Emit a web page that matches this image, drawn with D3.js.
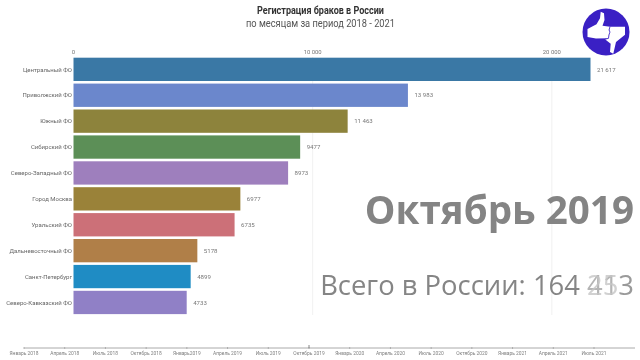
<!DOCTYPE html>
<html><head><meta charset="utf-8">
<script src="https://cdn.jsdelivr.net/npm/d3@7"></script>
<style>
html,body{margin:0;padding:0;background:#fff}
svg{display:block;filter:blur(0.35px)}
text{font-family:Roboto,sans-serif}
</style></head><body>
<svg id="c" width="640" height="360"></svg>
<script>
const categories=["Центральный ФО","Приволжский ФО","Южный ФО","Сибирский ФО","Северо-Западный ФО","Город Москва","Уральский ФО","Дальневосточный ФО","Санкт-Петербург","Северо-Кавказский ФО"];
const values=[21617,13983,11463,9477,8973,6977,6735,5178,4899,4733];
const barColors=["#3a78a5","#6b87cc","#8d833c","#5c8f57","#9e7fbd","#9a8239","#cc7078","#b07f48","#1f8cc4","#9080c6"];
const xTicks=[0,10000,20000];
const timeLabels=["Январь 2018","Апрель 2018","Июль 2018","Октябрь 2018","Январь2019","Апрель 2019","Июль 2019","Октябрь 2019","Январь 2020","Апрель 2020","Июль 2020","Октябрь 2020","Январь 2021","Апрель 2021","Июль 2021"];
const periodLabel="Октябрь 2019";
const currentIndex=7;
const totalPrefix="Всего в России: 164 ";
const fadingDigits=["41","25"];
const lastDigit="3";

const fmt=v=>v>=10000?d3.format(",")(v).replace(",", " "):String(v);
const svg=d3.select("#c");
const x=d3.scaleLinear().domain([0,21617]).range([73.5,590.5]);
const y=d3.scaleBand().domain(categories).range([55.1,316.7]).paddingInner(.1).paddingOuter(.1);
// gridlines
svg.append("g").selectAll("line").data(xTicks.slice(1)).join("line")
 .attr("x1",d=>x(d)).attr("x2",d=>x(d)).attr("y1",57).attr("y2",315)
 .attr("stroke","#eeeeee").attr("stroke-width",.8);
// top axis labels
svg.append("g").selectAll("text").data(xTicks).join("text")
 .attr("x",d=>x(d)).attr("y",53.5).attr("text-anchor","middle")
 .attr("font-size",5.9).attr("fill","#777").text(d=>d?d3.format(",")(d).replace(","," "):"0");
// bars
svg.append("g").selectAll("rect").data(values).join("rect")
 .attr("x",x(0)).attr("y",(d,i)=>y(categories[i])).attr("width",d=>x(d)-x(0))
 .attr("height",y.bandwidth()).attr("fill",(d,i)=>barColors[i]);
// category labels
svg.append("g").selectAll("text").data(categories).join("text")
 .attr("x",72).attr("y",d=>y(d)+y.bandwidth()/2+2.2).attr("text-anchor","end")
 .attr("font-size",6).attr("fill","#666").text(d=>d);
// value labels
svg.append("g").selectAll("text").data(values).join("text")
 .attr("x",d=>x(d)+6.5).attr("y",(d,i)=>y(categories[i])+y.bandwidth()/2+2.2)
 .attr("font-size",6.1).attr("fill","#777").text(fmt);
// title
svg.append("text").attr("x",320.5).attr("y",13.5).attr("text-anchor","middle")
 .attr("font-size",10.5).attr("font-weight",700).attr("fill","#333")
 .attr("textLength",127).attr("lengthAdjust","spacingAndGlyphs").text("Регистрация браков в России");
svg.append("text").attr("x",320.5).attr("y",26.5).attr("text-anchor","middle")
 .attr("font-size",10).attr("fill","#555")
 .attr("textLength",149).attr("lengthAdjust","spacingAndGlyphs").text("по месяцам за период 2018 - 2021");
// big period text
svg.append("text").attr("x",634).attr("y",224).attr("text-anchor","end")
 .style("font-family","'Open Sans'").attr("font-size",38.6).attr("font-weight",700)
 .attr("fill","#848484").text(periodLabel);
// total, with the digits caught mid-change
const total=svg.append("text").attr("y",295).attr("x",634).attr("text-anchor","end")
 .style("font-family","'Open Sans'").attr("font-size",27.4).attr("fill","#858585");
total.append("tspan").text(totalPrefix);
total.append("tspan").attr("fill","#b4b4b4").text(fadingDigits[0]);
total.append("tspan").attr("fill","#9a9a9a").text(lastDigit);
const lastW=15.68;
svg.append("text").attr("y",295).attr("x",634-lastW).attr("text-anchor","end")
 .style("font-family","'Open Sans'").attr("font-size",27.4).attr("fill","#c6c6c6").attr("opacity",.8).text(fadingDigits[1]);
// timeline
const t=d3.scalePoint().domain(timeLabels).range([24,594]);
svg.append("line").attr("x1",24).attr("x2",635).attr("y1",348).attr("y2",348).attr("stroke","#aaa").attr("stroke-width",1);
svg.append("g").selectAll("line").data(timeLabels).join("line")
 .attr("x1",d=>t(d)).attr("x2",d=>t(d)).attr("y1",347).attr("y2",349).attr("stroke","#999").attr("stroke-width",.7);
svg.append("g").selectAll("text").data(timeLabels).join("text")
 .attr("x",d=>t(d)).attr("y",355.2).attr("text-anchor","middle")
 .attr("font-size",4.9).attr("fill","#808080").text(d=>d);
svg.append("line").attr("x1",t(timeLabels[currentIndex])).attr("x2",t(timeLabels[currentIndex])).attr("y1",345).attr("y2",348).attr("stroke","#888").attr("stroke-width",1);
// logo
const logo=svg.append("g").attr("transform","translate(606,32)");
logo.append("circle").attr("r",23.5).attr("fill","#3a20c4");
logo.append("path").attr("fill","#fff").attr("d","M-18.5,-3 L-9.5,-7.7 L-6,-13.7 L-5.3,-20.3 L-2,-18.7 L-1.5,-12 L-3.5,-6.3 L4,-5.3 L3,1 L2.5,6.3 L-10,6.5 L-18.5,5 Z");
logo.append("path").attr("fill","#fff").attr("d","M4,-5.3 L19,-5.3 L19,2.7 L10,10 L7.3,21.7 L4,20 L4.7,11.7 L-1,7.3 L2.5,6.3 L3,1 Z");
logo.append("path").attr("fill","none").attr("stroke","#3a20c4").attr("stroke-width",.8).attr("d","M4,-5.3 L3,-2 L4,0 L3,3 L2.5,6.3 L-1,7.3");
</script></body></html>
